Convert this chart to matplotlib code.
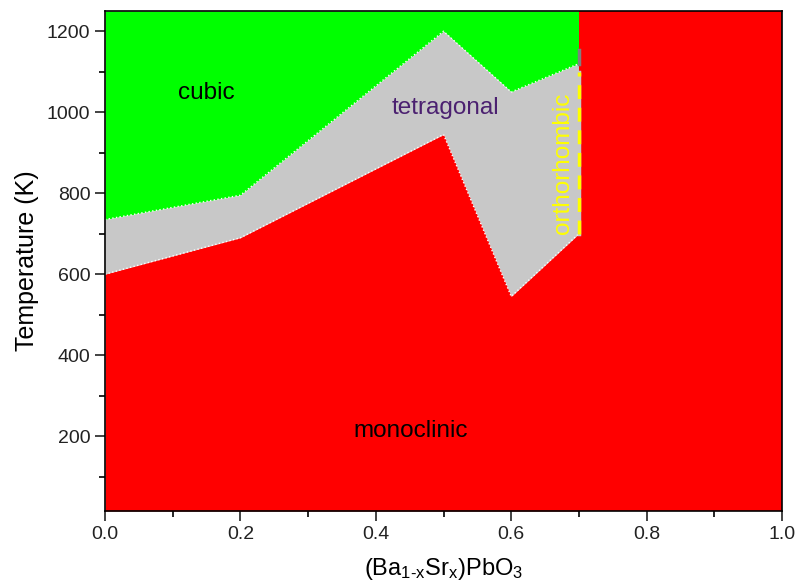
import numpy as np
import matplotlib.pyplot as plt

plt.rcParams['font.family'] = ['Liberation Sans', 'DejaVu Sans']
plt.rcParams['mathtext.fontset'] = 'custom'
plt.rcParams['mathtext.rm'] = 'Liberation Sans'
plt.rcParams['mathtext.it'] = 'Liberation Sans'

# phase boundaries
x_comp = [0.0, 0.2, 0.5, 0.6, 0.7]
t_lower = [600, 690, 945, 545, 700]     # monoclinic -> tetragonal
t_upper = [735, 795, 1200, 1050, 1120]  # tetragonal -> cubic
x_sr_rich = [0.7, 1.0]
t_ortho = [700, 1100]                   # orthorhombic segment at x = 0.7
t_ortho_top = 1153

ymin, ymax = 15, 1250

fig = plt.figure(figsize=(7.98, 5.83), dpi=100)
ax = fig.add_axes([105 / 798, 1 - 511 / 583, 677 / 798, 500 / 583])

ax.fill_between(x_comp, t_upper, ymax, color='#00ff00', lw=0)
ax.fill_between(x_comp, t_lower, t_upper, color='#c8c8c8', lw=0)
ax.fill_between(x_comp, ymin, t_lower, color='#ff0000', lw=0)
ax.fill_between(x_sr_rich, ymin, ymax, color='#ff0000', lw=0)

ax.plot(x_comp, t_lower, color='white', ls=':', lw=1)
ax.plot(x_comp, t_upper, color='white', ls=':', lw=1)
ax.plot([0.7, 0.7], [t_upper[-1], t_ortho_top], color='#808080', lw=2.5)
ax.plot([0.7, 0.7], t_ortho, color='#c8c8c8', lw=2.5)
ax.plot([0.7, 0.7], t_ortho, color='#ffff00', lw=2.5, ls=(0, (4, 2.5)))

ax.text(0.15, 1047, 'cubic', fontsize=17.5, ha='center', va='center')
ax.text(0.503, 1010, 'tetragonal', fontsize=17.5, ha='center', va='center',
        color='#4b2070')
ax.text(0.677, 874, 'orthorhombic', fontsize=17.5, ha='center', va='center',
        color='#ffff00', rotation=90)
ax.text(0.451, 212, 'monoclinic', fontsize=17.5, ha='center', va='center')

ax.set_xlim(0, 1)
ax.set_ylim(ymin, ymax)
ax.set_xticks(np.arange(0, 1.01, 0.2))
ax.set_xticks(np.arange(0.1, 1.0, 0.2), minor=True)
ax.set_yticks(np.arange(200, 1201, 200))
ax.set_yticks(np.arange(100, 1250, 200), minor=True)
ax.tick_params(which='major', direction='out', length=7, width=1.2,
               labelsize=14, colors='#222222')
ax.tick_params(which='minor', direction='out', length=4, width=1.2)
for s in ax.spines.values():
    s.set_linewidth(1.2)

ax.set_xlabel('(Ba$_{1\u2010x}$Sr$_x$)PbO$_3$', fontsize=17, labelpad=10)
ax.set_ylabel('Temperature (K)', fontsize=18, labelpad=6)

fig.savefig('out.png', dpi=100)
